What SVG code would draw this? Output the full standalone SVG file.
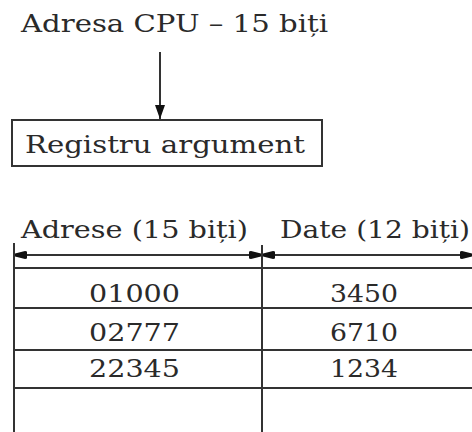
<svg xmlns="http://www.w3.org/2000/svg" width="472" height="432" viewBox="0 0 472 432">
  <style>
    .t { font-family: "DejaVu Serif", "Liberation Serif", serif; font-size: 24px; fill: #2a2a2a; }
    .ln { stroke: #333; stroke-width: 2; fill: none; }
  </style>
  <defs>
    <marker id="ah" viewBox="0 0 14 10" refX="14" refY="5" markerWidth="7" markerHeight="5" orient="auto-start-reverse" markerUnits="strokeWidth">
      <path d="M0,0 L14,5 L0,10 Z" fill="#111"/>
    </marker>
    <marker id="ahs" viewBox="0 0 12 8" refX="12" refY="4" markerWidth="6" markerHeight="4" orient="auto-start-reverse" markerUnits="strokeWidth">
      <path d="M0,1 Q0,0 2,0 L12,2.5 L12,5.5 L2,8 Q0,8 0,7 Z" fill="#111"/>
    </marker>
  </defs>

  <g id="cpu-address">
    <text class="t" x="21" y="32" textLength="307" lengthAdjust="spacingAndGlyphs">Adresa CPU – 15 biți</text>
  </g>

  <g id="argument-register">
    <rect class="ln" x="12" y="120" width="310" height="46"/>
    <text class="t" x="25" y="153" textLength="280" lengthAdjust="spacingAndGlyphs">Registru argument</text>
  </g>

  <g id="memory-table">
    <text class="t" x="21" y="238" textLength="227" lengthAdjust="spacingAndGlyphs">Adrese (15 biți)</text>
    <text class="t" x="280" y="238" textLength="190" lengthAdjust="spacingAndGlyphs">Date (12 biți)</text>
    <line class="ln" x1="14" y1="243" x2="14" y2="432"/>
    <line class="ln" x1="262" y1="245" x2="262" y2="432"/>
    <line class="ln" x1="14" y1="268" x2="472" y2="268"/>
    <line class="ln" x1="14" y1="308" x2="472" y2="308"/>
    <line class="ln" x1="14" y1="350" x2="472" y2="350"/>
    <line class="ln" x1="14" y1="388" x2="472" y2="388"/>
    <g class="t">
      <text x="89" y="302" textLength="91" lengthAdjust="spacingAndGlyphs">01000</text>
      <text x="330" y="302" textLength="68" lengthAdjust="spacingAndGlyphs">3450</text>
      <text x="89" y="341" textLength="91" lengthAdjust="spacingAndGlyphs">02777</text>
      <text x="330" y="341" textLength="68" lengthAdjust="spacingAndGlyphs">6710</text>
      <text x="89" y="377" textLength="91" lengthAdjust="spacingAndGlyphs">22345</text>
      <text x="330" y="377" textLength="68" lengthAdjust="spacingAndGlyphs">1234</text>
    </g>
  </g>

  <g id="connectors">
    <line class="ln" x1="160" y1="52" x2="160" y2="119" marker-end="url(#ah)"/>
    <line class="ln" x1="15" y1="255" x2="261" y2="255" marker-start="url(#ahs)" marker-end="url(#ahs)"/>
    <line class="ln" x1="263" y1="255" x2="472" y2="255" marker-start="url(#ahs)" marker-end="url(#ahs)"/>
  </g>
</svg>
